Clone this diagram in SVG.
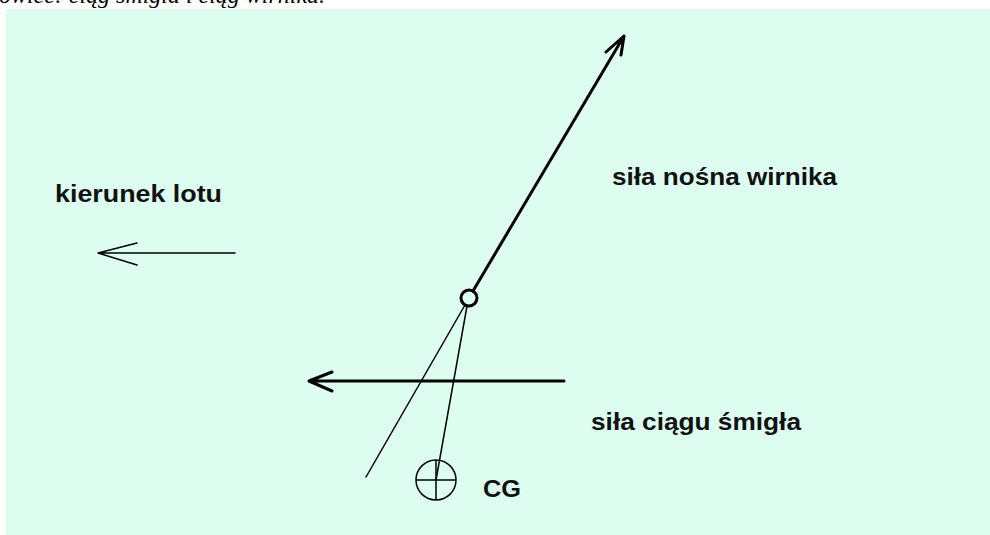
<svg xmlns="http://www.w3.org/2000/svg" width="990" height="535" viewBox="0 0 990 535">
<style>
.lbl{font-family:"Liberation Sans",Arial,sans-serif;font-weight:bold;font-size:24px;fill:#111}
.thick{stroke:#000;stroke-width:3;fill:none;stroke-linecap:round;stroke-linejoin:round}
.thin{stroke:#000;stroke-width:1.5;fill:none;stroke-linecap:round;stroke-linejoin:round}
</style>
<rect x="0" y="0" width="990" height="535" fill="#ffffff"/>
<text x="-1" y="3" font-family="'Liberation Serif','Times New Roman',serif" font-style="italic" font-size="24" fill="#000" textLength="326" lengthAdjust="spacingAndGlyphs">owiec: ciąg śmigła i ciąg wirnika.</text>
<rect x="6" y="9" width="984" height="526" fill="#dcfdf0"/>
<g id="kierunek-lotu">
<text class="lbl" x="55" y="202" textLength="167" lengthAdjust="spacingAndGlyphs">kierunek lotu</text>
</g>
<g id="sila-nosna">
<text class="lbl" x="612" y="185" textLength="225" lengthAdjust="spacingAndGlyphs">siła nośna wirnika</text>
</g>
<g id="sila-ciagu">
<text class="lbl" x="591" y="430" textLength="210" lengthAdjust="spacingAndGlyphs">siła ciągu śmigła</text>
</g>
<g id="hub">
<circle cx="469" cy="298" r="8" fill="none" stroke="#000" stroke-width="3"/>
</g>
<g id="cg">
<circle cx="436" cy="480" r="20" fill="none" stroke="#000" stroke-width="1.5"/>
<line x1="416" y1="480" x2="456" y2="480" stroke="#000" stroke-width="1.5"/>
<line x1="436" y1="460" x2="436" y2="500" stroke="#000" stroke-width="1.5"/>
<text class="lbl" x="483" y="497" textLength="38" lengthAdjust="spacingAndGlyphs">CG</text>
</g>
<g id="connectors">
<path class="thick" d="M473 291 L624 36 M606 52 L624 36 L621 55"/>
<path class="thick" d="M564 381 L309 381 M332 372 L309 381 L332 391"/>
<path class="thin" d="M235 253 L98 253 M137 243 L98 253 L137 265"/>
<path class="thin" d="M465 305 L366 477"/>
<path class="thin" d="M467 306 L436 480"/>
</g>
</svg>
